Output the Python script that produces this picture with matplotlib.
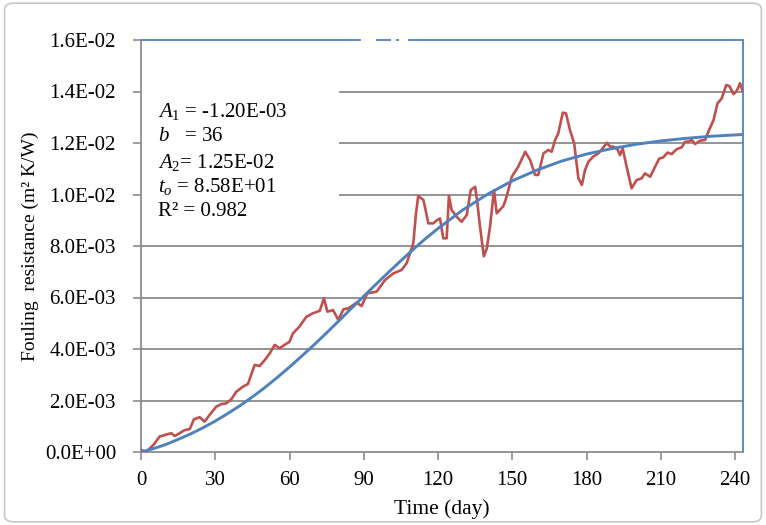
import matplotlib
matplotlib.use("Agg")
import matplotlib.pyplot as plt
from matplotlib.patches import Rectangle, FancyBboxPatch
from matplotlib.ticker import FuncFormatter, FixedLocator

# ---- data ----
measured_days = [0, 2, 5, 7.5, 9.6, 12.3, 13.6, 15.6, 17.6, 19.7, 21.4, 23.7, 25.7, 27.7,
                 30.4, 32.4, 34.5, 36.5, 38.5, 41.2, 43.2, 45.9, 47.9, 50, 52, 54, 56, 58,
                 60, 61.4, 64, 66.8, 69.5, 72.2, 73.9, 75.3, 77.6, 79.7, 81.8, 83.8, 87.1,
                 89.1, 91.4, 95.2, 98.6, 102, 105.3, 107.3, 108.7, 110, 111.1, 112, 114.1,
                 116.1, 118.1, 119.5, 120.8, 122.1, 123.5, 124.4, 125.5, 127.5, 129.5,
                 131.6, 133.2, 135, 135.9, 136.9, 138.5, 139.7, 141, 142.6, 143.7, 146.4,
                 147.7, 149.8, 152.4, 155.2, 157.2, 159.2, 160.5, 162.6, 164.6, 165.9,
                 167.3, 168.6, 170.4, 171.7, 173.3, 175, 176.7, 178.1, 179.4, 180.7, 182.7,
                 184.8, 186.5, 188.2, 189.5, 190.8, 192.5, 193.5, 194.6, 196.2, 198.2,
                 200.2, 202.3, 203.6, 205.7, 207.7, 209.4, 211, 212.7, 214.4, 216.4, 218.4,
                 219.8, 221.1, 222.5, 223.8, 225.9, 227.9, 229.2, 231.3, 232.9, 234.6,
                 236.4, 237.7, 239.4, 240.7, 242, 243]
measured_rf = [0.00008, 0.00000, 0.00027, 0.00060, 0.00066, 0.00073, 0.00062, 0.00073,
               0.00085, 0.00089, 0.00127, 0.00135, 0.00118, 0.00144, 0.00176, 0.00186,
               0.00189, 0.00205, 0.00234, 0.00254, 0.00264, 0.00338, 0.00334, 0.00357,
               0.00383, 0.00416, 0.00403, 0.00416, 0.00428, 0.00461, 0.00487, 0.00525,
               0.00539, 0.00548, 0.00597, 0.00545, 0.00551, 0.00513, 0.00554, 0.00558,
               0.00580, 0.00567, 0.00616, 0.00623, 0.00668, 0.00694, 0.00707, 0.00733,
               0.00772, 0.00810, 0.00927, 0.00994, 0.00979, 0.00888, 0.00888, 0.00900,
               0.00907, 0.00830, 0.00830, 0.00994, 0.00940, 0.00914, 0.00894, 0.00920,
               0.01017, 0.01030, 0.00966, 0.00880, 0.00760, 0.00790, 0.00875, 0.01017,
               0.00927, 0.00955, 0.00991, 0.01069, 0.01108, 0.01166, 0.01134, 0.01076,
               0.01076, 0.01160, 0.01173, 0.01166, 0.01212, 0.01238, 0.01318, 0.01315,
               0.01250, 0.01199, 0.01063, 0.01037, 0.01095, 0.01127, 0.01147, 0.01160,
               0.01179, 0.01201, 0.01186, 0.01186, 0.01175, 0.01153, 0.01179, 0.01108,
               0.01024, 0.01056, 0.01063, 0.01082, 0.01069, 0.01108, 0.01140, 0.01144,
               0.01163, 0.01157, 0.01176, 0.01183, 0.01205, 0.01205, 0.01212, 0.01196,
               0.01209, 0.01212, 0.01244, 0.01289, 0.01354, 0.01373, 0.01425, 0.01421,
               0.01390, 0.01403, 0.01432, 0.01403]

fit_days = [0, 5, 10, 15, 20, 25, 30, 35, 40, 45, 50, 55, 60, 65, 70, 75, 80, 85, 90, 95,
            100, 105, 110, 115, 120, 130, 140, 150, 160, 170, 180, 190, 200, 210, 220,
            230, 243]
fit_rf = [0.0000, 0.00013, 0.00029, 0.00049, 0.00070, 0.00094, 0.00120, 0.00149, 0.00180,
          0.00214, 0.00250, 0.00289, 0.00330, 0.00373, 0.00417, 0.00463, 0.00510, 0.00558,
          0.00605, 0.00652, 0.00698, 0.00743, 0.00787, 0.00829, 0.00868, 0.00940, 0.01001,
          0.01053, 0.01095, 0.01130, 0.01157, 0.01178, 0.01195, 0.01208, 0.01218, 0.01226,
          0.01233]

x_ticks = [0, 30, 60, 90, 120, 150, 180, 210, 240]
y_ticks = [0.0, 0.002, 0.004, 0.006, 0.008, 0.010, 0.012, 0.014, 0.016]

fit_text = [r"$A_{\mathit{1}}$ = -1.20E-03",
            r"$b$   = 36",
            r"$A_{\mathit{2}}$= 1.25E-02",
            r"$t_{o}$ = 8.58E+01",
            "R² = 0.982"]

# ---- styling ----
plt.rcParams['font.family'] = ['Liberation Serif', 'DejaVu Serif']
plt.rcParams['mathtext.fontset'] = 'custom'
plt.rcParams['mathtext.rm'] = 'Liberation Serif'
plt.rcParams['mathtext.it'] = 'Liberation Serif:italic'

RED = '#C0504D'
BLUE = '#4F81BD'
GRID = '#8C8C8C'

fig = plt.figure(figsize=(7.66, 5.25), dpi=100)
fig.patch.set_facecolor('white')
border = FancyBboxPatch((0.006, 0.006), 0.988, 0.988, boxstyle="round,pad=0,rounding_size=0.012",
                        transform=fig.transFigure, facecolor='none', edgecolor='#C8C8C8',
                        linewidth=1.2)
fig.patches.append(border)

ax = fig.add_axes([141 / 766, 73 / 525, 601.5 / 766, 412 / 525])
ax.set_xlim(0, 243)
ax.set_ylim(0, 0.016)

ax.xaxis.set_major_locator(FixedLocator(x_ticks))
ax.yaxis.set_major_locator(FixedLocator(y_ticks))
ax.yaxis.set_major_formatter(FuncFormatter(lambda v, p: f"{v:.1E}"))

# horizontal gridlines (interior ones only)
for yv in y_ticks[1:-1]:
    ax.axhline(yv, color=GRID, linewidth=1.3, zorder=0)

for s in ['left', 'bottom']:
    ax.spines[s].set_color(GRID)
    ax.spines[s].set_linewidth(1.3)
ax.spines['right'].set_color(BLUE)
ax.spines['right'].set_linewidth(1.3)
ax.spines['top'].set_visible(False)
# top border drawn in pieces (with its small gap)
for a, b in [(0, 89.0), (95.0, 101.0), (103.0, 104.4), (108.0, 243)]:
    ax.plot([a, b], [0.016, 0.016], color=BLUE, linewidth=1.3, clip_on=False,
            solid_capstyle='butt', zorder=5)

ax.tick_params(axis='both', direction='out', length=6, width=1.2, color=GRID,
               labelsize=15, labelcolor='black')
ax.tick_params(axis='y', pad=12)
ax.tick_params(axis='x', pad=8)

# white box behind the fit text
ax.add_patch(Rectangle((0, 0.534), 0.329, 0.37, transform=ax.transAxes,
                       facecolor='white', edgecolor='none', zorder=1))

ax.plot(measured_days, measured_rf, color=RED, linewidth=1.9, zorder=3)
ax.plot(fit_days, fit_rf, color=BLUE, linewidth=2.1, zorder=4)

ys = [0.826, 0.7653, 0.7022, 0.6439, 0.5833]
for t, yy in zip(fit_text, ys):
    ax.text(0.028, yy, t, transform=ax.transAxes, fontsize=15, va='center', ha='left',
            zorder=6)

ax.set_xlabel("Time (day)", fontsize=15.5, labelpad=6)
ax.set_ylabel("Fouling  resistance (m² K/W)", fontsize=14, labelpad=4)

fig.savefig("out.png", dpi=100)
